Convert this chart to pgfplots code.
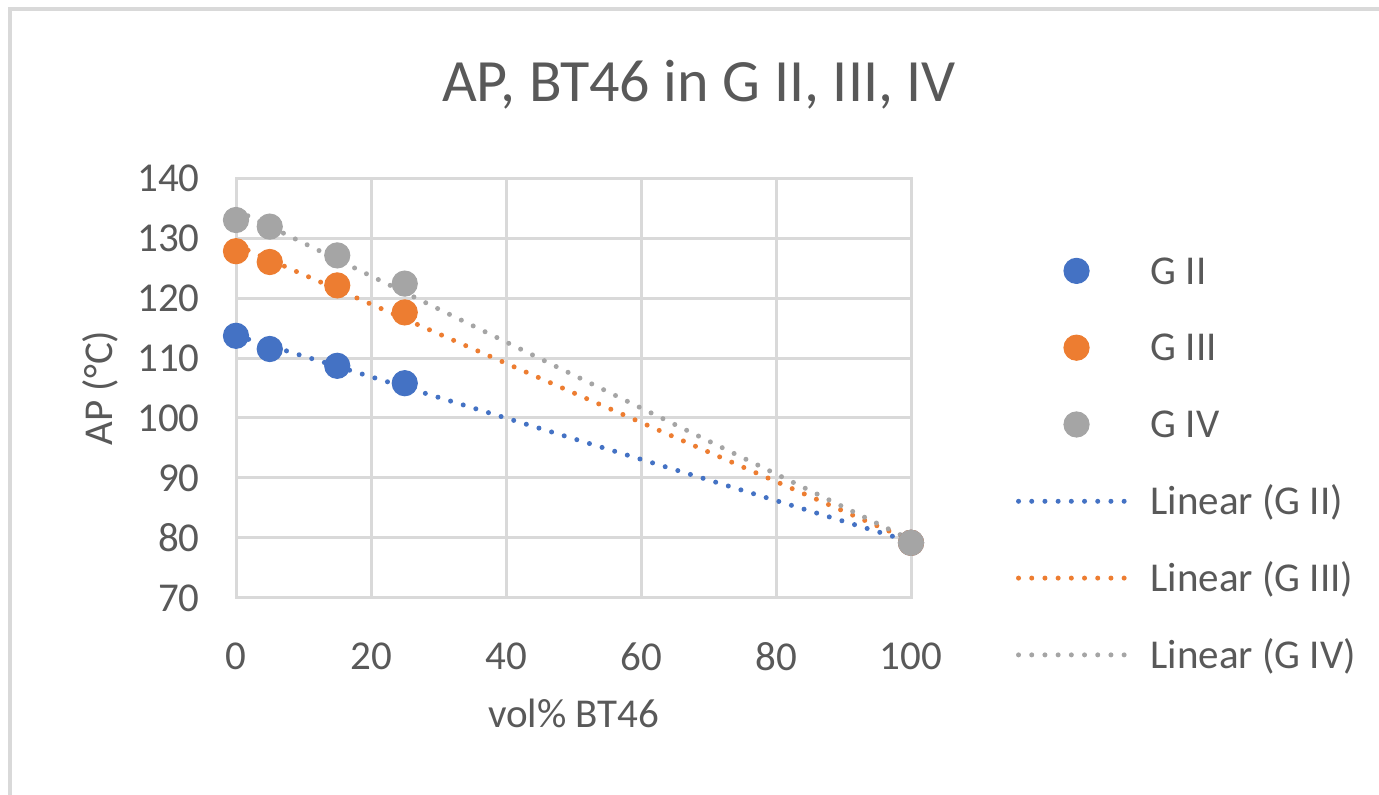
\documentclass[border=0pt]{standalone}
\usepackage{fontspec}
\setmainfont{Carlito}
\usepackage{pgfplots}
\usepackage{pgfplotstable}
\pgfplotsset{compat=1.18}
\definecolor{cblue}{HTML}{4472C4}
\definecolor{corange}{HTML}{ED7D31}
\definecolor{cgray}{HTML}{A5A5A5}
\definecolor{gridc}{HTML}{D9D9D9}
\definecolor{txt}{HTML}{595959}
\pgfplotsset{
  scatleg/.style={legend image code/.code={\path[draw=none,fill=none] (0pt,-1pt) rectangle (54.5pt,1pt); \draw[##1] plot coordinates {(29pt,0pt)};}},
  lineleg/.style={legend image code/.code={\draw[##1] (0pt,0pt) -- (54.5pt,0pt);}},
}
\pgfplotstableread{
x g2 g3 g4
0 113.7 127.8 133.0
5 111.5 126.0 131.9
15 108.7 122.1 127.1
25 105.8 117.6 122.4
100 79.2 79.2 79.2
}\datatable
\begin{document}
\begin{tikzpicture}
\path[use as bounding box, fill=white] (-118pt,-98.5pt) rectangle (571.5pt,299pt);
\draw[gridc, line width=2pt] (-113pt,-98.5pt) -- (-113pt,294.25pt) -- (571.5pt,294.25pt);
\begin{axis}[
  at={(0pt,0pt)}, anchor=south west,
  scale only axis, width=337.5pt, height=210pt,
  xmin=0, xmax=100, ymin=70, ymax=140,
  xtick={0,20,...,100}, ytick={70,80,...,140},
  grid=major, major grid style={gridc, line width=1.5pt},
  axis line style={gridc, line width=1.5pt},
  major tick length=0pt,
  clip=false,
  /pgf/number format/assume math mode=true,
  ticklabel style={font=\fontsize{20.5}{24}\selectfont, text=txt},
  yticklabel style={inner sep=0pt, xshift=-18pt},
  xticklabel style={inner sep=0pt, yshift=-22pt},
  title={AP, BT46 in G II, III, IV},
  every axis title/.style={at={(axis description cs:0.686,1.181)}, anchor=base, font=\fontsize{30}{36}\selectfont, text=txt},
  xlabel={vol\% BT46},
  ylabel={AP (°C)},
  every axis x label/.style={at={(axis description cs:0.5,-0.3095)}, anchor=base, font=\fontsize{20.5}{24}\selectfont, text=txt},
  every axis y label/.style={at={(axis description cs:-0.1837,0.5)}, rotate=90, anchor=base, font=\fontsize{20.5}{24}\selectfont, text=txt},
  legend cell align=left,
  legend style={at={(axis description cs:1.1556,0.3217)}, anchor=west, draw=none, fill=none,
    inner sep=0pt, outer sep=0pt, row sep=21.2pt, column sep=10.3pt,
    font=\fontsize{20.5}{24}\selectfont, text=txt,
    nodes={inner sep=0pt, text height=15.2pt, text depth=2pt}},
]
\addplot[only marks, mark=*, mark size=6.3pt, color=cblue, mark options={draw=cblue, fill=cblue, line width=0.5pt}, scatleg]
  table[x=x, y=g2] {\datatable};
\addlegendentry{G II}
\addplot[only marks, mark=*, mark size=6.3pt, color=corange, mark options={draw=corange, fill=corange, line width=0.5pt}, scatleg]
  table[x=x, y=g3] {\datatable};
\addlegendentry{G III}
\addplot[only marks, mark=*, mark size=6.3pt, color=cgray, mark options={draw=cgray, fill=cgray, line width=0.5pt}, scatleg]
  table[x=x, y=g4] {\datatable};
\addlegendentry{G IV}
\addplot[cblue, no markers, line width=2.5pt, dash pattern=on 0pt off 6.6pt, line cap=round, lineleg]
  table[x=x, y={create col/linear regression={y=g2}}] {\datatable};
\addlegendentry{Linear (G II)}
\addplot[corange, no markers, line width=2.5pt, dash pattern=on 0pt off 6.6pt, line cap=round, lineleg]
  table[x=x, y={create col/linear regression={y=g3}}] {\datatable};
\addlegendentry{Linear (G III)}
\addplot[cgray, no markers, line width=2.5pt, dash pattern=on 0pt off 6.6pt, line cap=round, lineleg]
  table[x=x, y={create col/linear regression={y=g4}}] {\datatable};
\addlegendentry{Linear (G IV)}
\end{axis}
\end{tikzpicture}
\end{document}
